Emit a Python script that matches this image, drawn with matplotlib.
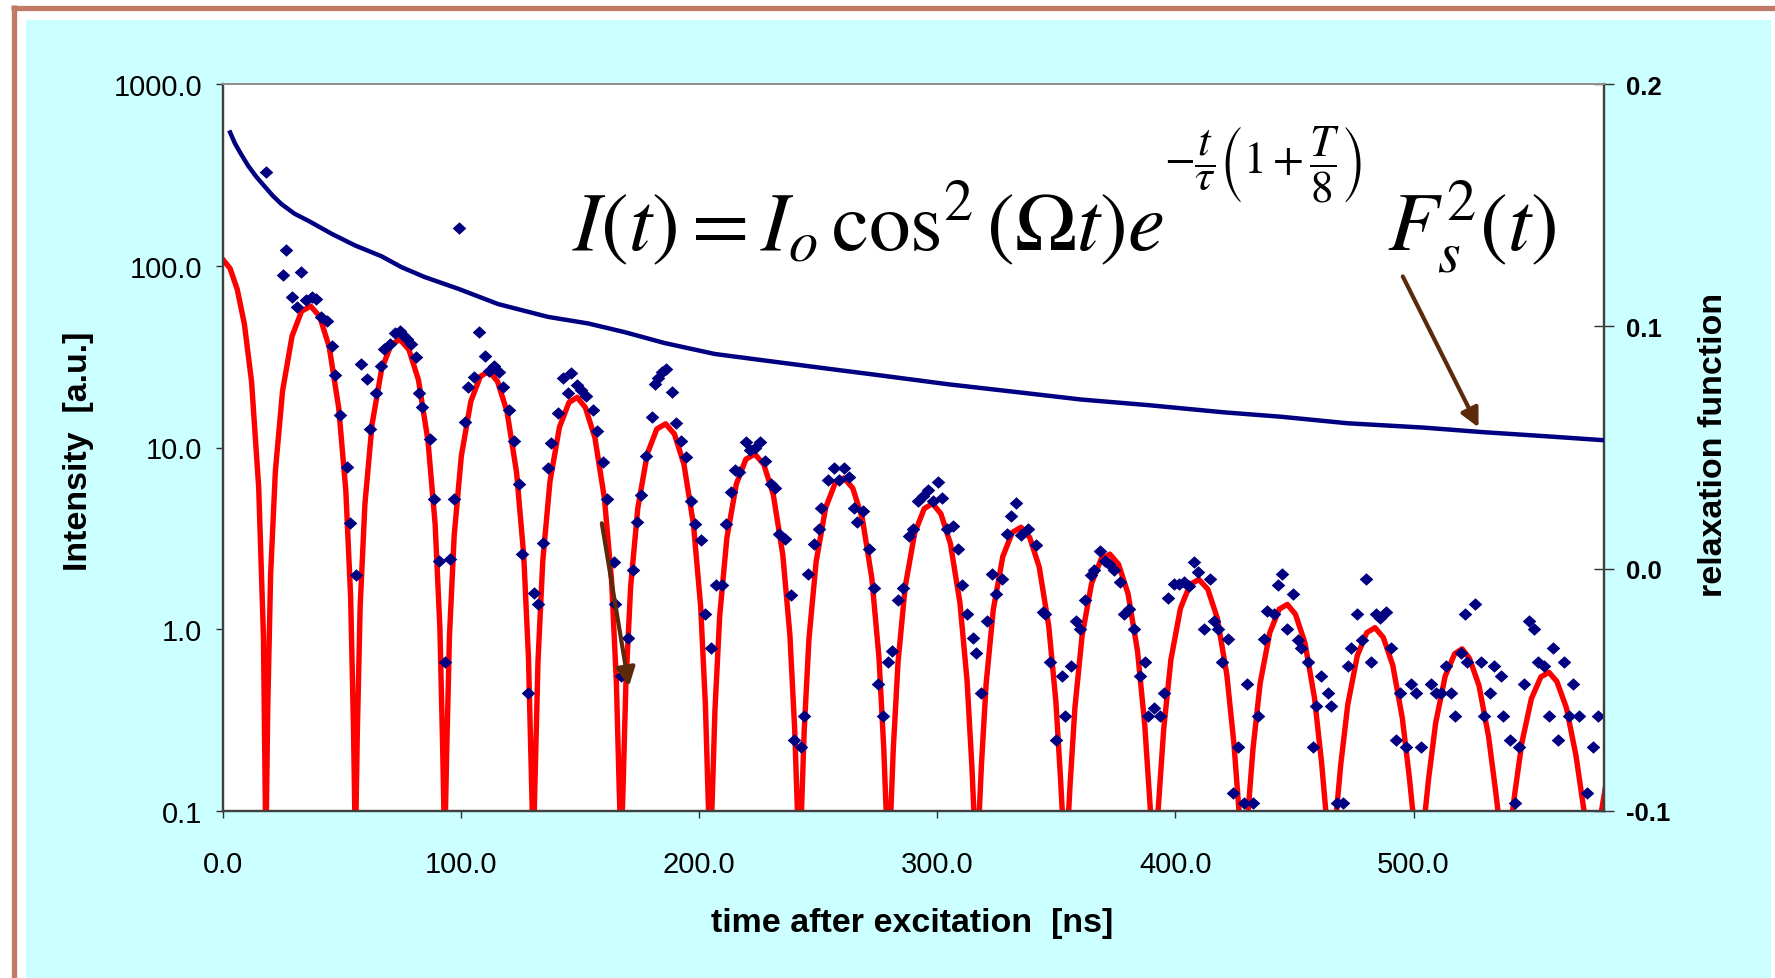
import matplotlib
matplotlib.use("Agg")
import matplotlib.pyplot as plt
from matplotlib.patches import Rectangle
from matplotlib.lines import Line2D
from matplotlib.ticker import NullLocator

# ---------------- data ----------------
# measured intensity (diamonds)
meas_t = [17.9, 26.4, 25.0, 32.6, 28.8, 31.0, 34.7, 37.5, 38.9, 41.0, 43.8, 45.6, 47.0, 49.2, 51.9, 53.2, 55.7,
          57.9, 60.3, 61.7, 64.2, 66.3, 67.7, 70.1, 72.2, 74.3, 75.7, 77.1, 78.9, 80.9, 82.3, 83.6, 86.9, 88.5,
          90.6, 93.2, 95.5, 97.1, 99.2, 101.6, 103.0, 105.3, 107.6, 110.0, 111.6, 113.7, 115.8, 117.6, 120.0,
          122.1, 124.4, 125.6, 128.1, 130.5, 132.3, 134.3, 136.5, 137.9, 140.5, 142.8, 146.3, 144.9, 148.7,
          150.5, 152.6, 155.4, 157.2, 159.6, 161.3, 164.1, 164.8, 167.0, 170.1, 172.2, 174.0, 175.7, 177.8,
          180.2, 181.3, 182.7, 184.4, 186.2, 188.6, 190.1, 192.2, 194.6, 196.4, 198.4, 200.9, 202.3, 204.8,
          206.9, 209.5, 211.1, 213.2, 214.9, 216.7, 219.5, 221.2, 223.3, 225.4, 227.7, 230.0, 231.7, 233.7,
          236.1, 238.4, 240.0, 242.6, 244.2, 245.9, 248.2, 250.5, 251.2, 254.1, 256.6, 258.7, 260.8, 262.9,
          265.0, 266.4, 268.8, 271.2, 273.4, 275.1, 277.2, 279.3, 281.0, 283.5, 285.6, 288.1, 289.8, 291.9,
          294.0, 296.1, 298.2, 300.3, 301.9, 304.2, 306.6, 308.7, 310.3, 312.6, 315.0, 316.4, 318.5, 320.8,
          323.1, 324.7, 327.3, 329.4, 331.0, 333.1, 335.2, 338.0, 341.5, 344.3, 345.3, 347.5, 349.9, 352.4,
          353.8, 356.2, 358.3, 360.1, 362.2, 364.6, 366.0, 368.5, 370.5, 372.3, 374.4, 376.9, 378.6, 380.7,
          382.8, 385.1, 387.4, 388.4, 391.2, 393.5, 395.1, 397.0, 399.3, 401.7, 403.8, 405.9, 408.0, 409.3,
          411.9, 414.7, 416.1, 418.0, 419.4, 422.2, 430.0, 426.4, 424.0, 428.6, 432.7, 434.5, 437.0, 438.4,
          441.2, 442.9, 444.7, 449.5, 446.8, 451.3, 452.9, 455.5, 461.3, 459.0, 463.9, 465.3, 457.6, 467.8,
          470.2, 472.3, 473.7, 476.2, 478.3, 480.0, 482.1, 484.2, 486.0, 488.3, 490.7, 494.2, 492.8, 496.7,
          499.1, 500.9, 503.0, 507.2, 509.3, 511.4, 513.5, 515.9, 517.3, 519.8, 521.6, 525.8, 522.6, 528.2,
          529.6, 532.1, 533.8, 536.6, 537.7, 540.5, 544.3, 542.5, 546.4, 548.5, 550.6, 552.2, 554.8, 558.7,
          563.2, 556.9, 560.8, 565.3, 567.1, 569.5, 573.0, 575.5, 577.6]
meas_I = [330, 122, 89.5, 92, 67, 59, 65, 67, 66, 52, 49.5, 36, 24.9, 15, 7.85, 3.86, 1.99,
          28.8, 23.8, 12.6, 20, 28.2, 35, 37, 42.7, 43.6, 41.5, 39.7, 37, 31.3, 20, 16.7, 11.2, 5.2,
          2.38, 0.66, 2.43, 5.2, 161, 13.8, 21.5, 24.5, 43, 31.8, 26.3, 28.2, 25.9, 21.5, 16,
          10.8, 6.3, 2.6, 0.445, 1.58, 1.37, 2.97, 7.7, 10.6, 15.4, 24.2, 25.6, 20, 22,
          20.6, 19.2, 16, 12.4, 8.3, 5.2, 2.34, 1.37, 0.555, 0.895, 2.12, 3.88, 5.5, 9.0,
          14.8, 22.3, 24.2, 25.9, 27, 20.3, 13.6, 10.9, 8.9, 5.1, 3.78, 3.08, 1.22, 0.79,
          1.76, 1.76, 3.78, 5.7, 7.5, 7.3, 10.7, 9.7, 9.95, 10.7, 8.4, 6.3, 5.96, 3.35,
          3.13, 1.55, 0.246, 0.224, 0.333, 2.01, 2.95, 3.54, 4.66, 6.65, 7.76, 6.65, 7.76, 6.84,
          4.66, 3.88, 4.46, 2.76, 1.68, 0.50, 0.333, 0.66, 0.76, 1.44, 1.68, 3.26, 3.54, 5.06,
          5.43, 5.8, 5.06, 6.47, 5.26, 3.57, 3.70, 2.76, 1.76, 1.22, 0.895, 0.74, 0.445, 1.11,
          2.01, 1.57, 1.90, 3.35, 4.22, 4.98, 3.31, 3.54, 2.92, 1.24, 1.21, 0.66, 0.246, 0.555,
          0.333, 0.627, 1.11, 1.0, 1.44, 1.99, 2.12, 2.69, 2.38, 2.28, 2.12, 1.83, 1.21, 1.30,
          1.0, 0.555, 0.66, 0.333, 0.37, 0.333, 0.445, 1.49, 1.78, 1.78, 1.83, 1.73, 2.34, 2.07,
          1.0, 1.88, 1.11, 1.0, 0.66, 0.885, 0.50, 0.224, 0.125, 0.111, 0.111, 0.333, 0.885, 1.26,
          1.22, 1.76, 2.01, 1.57, 1.0, 0.87, 0.79, 0.66, 0.555, 0.378, 0.445, 0.378, 0.224, 0.111,
          0.111, 0.627, 0.79, 1.22, 0.87, 1.90, 0.66, 1.22, 1.15, 1.24, 0.79, 0.445, 0.246, 0.224,
          0.50, 0.445, 0.224, 0.50, 0.445, 0.445, 0.627, 0.445, 0.333, 0.74, 1.22, 1.37, 0.66, 0.66,
          0.333, 0.445, 0.627, 0.555, 0.333, 0.246, 0.224, 0.111, 0.50, 1.11, 1.0, 0.66, 0.627, 0.79,
          0.66, 0.333, 0.246, 0.333, 0.50, 0.333, 0.125, 0.224, 0.333]

# fitted curve (red)
fit_t = [0, 3, 6, 9, 12, 15, 17, 18.0,
         18.8, 20.0, 22.0, 25.0, 29.0, 33.0, 36.8, 40.6, 44.6, 48.6, 51.6, 53.6, 54.8, 55.6,
         56.4, 57.6, 59.6, 62.6, 66.6, 70.6, 74.35, 78.1, 82.1, 86.1, 89.1, 91.1, 92.3, 93.1,
         93.9, 95.1, 97.1, 100.1, 104.1, 108.1, 111.7, 115.3, 119.3, 123.3, 126.3, 128.3, 129.5, 130.3,
         131.1, 132.3, 134.3, 137.3, 141.3, 145.3, 148.75, 152.2, 156.2, 160.2, 163.2, 165.2, 166.4, 167.2,
         168.0, 169.2, 171.2, 174.2, 178.2, 182.2, 185.9, 189.6, 193.6, 197.6, 200.6, 202.6, 203.8, 204.6,
         205.4, 206.6, 208.6, 211.6, 215.6, 219.6, 223.35, 227.1, 231.1, 235.1, 238.1, 240.1, 241.3, 242.1,
         242.9, 244.1, 246.1, 249.1, 253.1, 257.1, 260.8, 264.5, 268.5, 272.5, 275.5, 277.5, 278.7, 279.5,
         280.3, 281.5, 283.5, 286.5, 290.5, 294.5, 298.0, 301.5, 305.5, 309.5, 312.5, 314.5, 315.7, 316.5,
         317.3, 318.5, 320.5, 323.5, 327.5, 331.5, 335.15, 338.8, 342.8, 346.8, 349.8, 351.8, 353.0, 353.8,
         354.6, 355.8, 357.8, 360.8, 364.8, 368.8, 372.45, 376.1, 380.1, 384.1, 387.1, 389.1, 390.3, 391.1,
         391.9, 393.1, 395.1, 398.1, 402.1, 406.1, 409.85, 413.6, 417.6, 421.6, 424.6, 426.6, 427.8, 428.6,
         429.4, 430.6, 432.6, 435.6, 439.6, 443.6, 447.0, 450.4, 454.4, 458.4, 461.4, 463.4, 464.6, 465.4,
         466.2, 467.4, 469.4, 472.4, 476.4, 480.4, 483.85, 487.3, 491.3, 495.3, 498.3, 500.3, 501.5, 502.3,
         503.1, 504.3, 506.3, 509.3, 513.3, 517.3, 520.4, 523.5, 527.5, 531.5, 534.5, 536.5, 537.7, 538.5,
         539.3, 540.5, 542.5, 545.5, 549.5, 553.5, 556.85, 560.2, 564.2, 568.2, 571.2, 573.2, 574.4, 575.2,
         576.0, 577.2, 579.2, 582.2]
fit_I = [108, 96.5, 74, 47.6, 23, 6.0, 0.9, 0.06,
         0.375, 2.00, 7.43, 20.4, 41.0, 56.2, 60, 52.6, 35.8, 16.5, 5.75, 1.51, 0.29, 0.06,
         0.266, 1.33, 4.88, 13.4, 26.9, 36.8, 39.3, 34.5, 23.5, 10.85, 3.78, 1.01, 0.21, 0.06,
         0.198, 0.91, 3.29, 8.98, 17.98, 24.6, 26.3, 23.07, 15.73, 7.28, 2.55, 0.695, 0.161, 0.06,
         0.159, 0.670, 2.38, 6.47, 12.93, 17.69, 18.9, 16.58, 11.31, 5.24, 1.85, 0.516, 0.133, 0.06,
         0.131, 0.496, 1.71, 4.63, 9.24, 12.64, 13.5, 11.85, 8.08, 3.76, 1.34, 0.385, 0.112, 0.06,
         0.108, 0.356, 1.18, 3.17, 6.30, 8.62, 9.2, 8.08, 5.52, 2.57, 0.927, 0.281, 0.095, 0.06,
         0.095, 0.278, 0.888, 2.35, 4.66, 6.37, 6.8, 5.97, 4.08, 1.91, 0.700, 0.223, 0.086, 0.06,
         0.0855, 0.2175, 0.657, 1.71, 3.38, 4.61, 4.92, 4.32, 2.96, 1.40, 0.521, 0.178, 0.079, 0.06,
         0.079, 0.176, 0.500, 1.28, 2.51, 3.41, 3.64, 3.20, 2.20, 1.04, 0.400, 0.147, 0.074, 0.06,
         0.073, 0.142, 0.371, 0.920, 1.79, 2.43, 2.59, 2.28, 1.57, 0.756, 0.300, 0.121, 0.070, 0.06,
         0.070, 0.119, 0.284, 0.679, 1.30, 1.76, 1.88, 1.66, 1.15, 0.561, 0.233, 0.104, 0.067, 0.06,
         0.067, 0.102, 0.221, 0.505, 0.955, 1.29, 1.37, 1.21, 0.842, 0.420, 0.184, 0.092, 0.065, 0.06,
         0.065, 0.091, 0.178, 0.386, 0.716, 0.959, 1.02, 0.902, 0.633, 0.324, 0.151, 0.083, 0.064, 0.06,
         0.064, 0.083, 0.149, 0.305, 0.552, 0.734, 0.78, 0.691, 0.490, 0.258, 0.128, 0.077, 0.063, 0.06,
         0.063, 0.077, 0.124, 0.237, 0.415, 0.547, 0.58, 0.516, 0.370, 0.203, 0.109, 0.073, 0.062, 0.06,
         0.062, 0.073, 0.105, 0.18]

# relaxation function (right axis)
relax_t = [3, 5, 7.5, 10.6, 14, 17.6, 21, 24.6, 30, 36.5, 45.6, 55.4, 66.6, 75.0, 84.8, 98.8, 115.5,
           136.5, 153.3, 168.7, 185.5, 206.5, 227.5, 252.6, 276.5, 304.5, 336.6, 360.4, 388.4, 420.5,
           444.3, 472.3, 504.4, 528.2, 556.2, 580]
relax_v = [0.180, 0.1755, 0.1712, 0.1662, 0.1617, 0.1576, 0.1538, 0.1504, 0.1465, 0.1432, 0.1382, 0.1334,
           0.1289, 0.1244, 0.1203, 0.1155, 0.1092, 0.1039, 0.1012, 0.0976, 0.0931, 0.0886, 0.0859, 0.0827,
           0.0797, 0.0761, 0.0725, 0.0698, 0.0675, 0.0645, 0.0627, 0.0600, 0.0582, 0.0564, 0.0546, 0.0530]

x_ticks = [0, 100, 200, 300, 400, 500]
x_labels = ["0.0", "100.0", "200.0", "300.0", "400.0", "500.0"]
y_ticks = [0.1, 1, 10, 100, 1000]
y_labels = ["0.1", "1.0", "10.0", "100.0", "1000.0"]
y2_ticks = [-0.1, 0.0, 0.1, 0.2]
y2_labels = ["-0.1", "0.0", "0.1", "0.2"]

# ---------------- figure ----------------
W, H = 1775, 979
plt.rcParams['font.family'] = ['Liberation Sans', 'DejaVu Sans']
plt.rcParams['mathtext.fontset'] = 'stix'

fig = plt.figure(figsize=(W / 100, H / 100), dpi=100)
fig.patch.set_facecolor('white')

def fx(px):
    return px / W

def fy(py):
    return 1 - py / H

# background panel and border
fig.add_artist(Rectangle((fx(26), 0), fx(1771) - fx(26), fy(21), transform=fig.transFigure,
                         facecolor='#CCFFFF', edgecolor='none', zorder=0))
brown = '#C17A66'
fig.add_artist(Line2D([fx(11), 1], [fy(8.5), fy(8.5)], transform=fig.transFigure, color=brown, lw=3.8,
                      solid_capstyle='butt', zorder=1))
fig.add_artist(Line2D([fx(13.5), fx(13.5)], [fy(6), 0], transform=fig.transFigure, color=brown, lw=3.8,
                      solid_capstyle='butt', zorder=1))

L, R, T, B = 223, 1604, 85, 812
ax = fig.add_axes([fx(L), fy(B), fx(R) - fx(L), fy(T) - fy(B)])
ax.set_facecolor('white')
ax.set_yscale('log')
ax.set_xlim(0, 580)
ax.set_ylim(0.1, 1000)

ax.plot(fit_t, fit_I, color='#FF0000', lw=3.9, zorder=2, solid_joinstyle='round')
diamond = [(0, 0.46), (0.5, 0), (0, -0.46), (-0.5, 0), (0, 0.46)]
ax.plot(meas_t, meas_I, linestyle='none', marker=diamond, markersize=9.8, markeredgewidth=0,
        color='#000080', zorder=3)

ax.set_xticks(x_ticks)
ax.set_xticklabels(x_labels)
ax.set_yticks(y_ticks)
ax.set_yticklabels(y_labels)
ax.yaxis.set_minor_locator(NullLocator())
ax.tick_params(axis='both', which='major', labelsize=21, direction='out', length=5, width=1,
               color='#303030')
ax.tick_params(axis='x', pad=23)
ax.tick_params(axis='y', pad=10)

ax2 = ax.twinx()
ax2.set_ylim(-0.1, 0.2)
ax2.plot(relax_t, relax_v, color='#000080', lw=3.2, zorder=4, solid_joinstyle='round')
ax2.set_yticks(y2_ticks)
ax2.set_yticklabels(y2_labels, fontweight='bold')
ax2.tick_params(axis='y', labelsize=18.5, direction='inout', length=14, width=1, color='#303030', pad=9)

for a in (ax, ax2):
    for side in ('left', 'right', 'bottom'):
        a.spines[side].set_color('#404040')
        a.spines[side].set_linewidth(1.6)
    a.spines['top'].set_color('#909090')
    a.spines['top'].set_linewidth(1.4)

# arrows
arrow_col = '#5C2A0A'
ax.annotate('', xy=(527.3, 12.9), xytext=(495.5, 87.3),
            arrowprops=dict(arrowstyle='-|>', color=arrow_col, lw=3.0, mutation_scale=28,
                            shrinkA=0, shrinkB=0), zorder=6, annotation_clip=False)
ax.annotate('', xy=(170.5, 0.484), xytext=(159.1, 3.83),
            arrowprops=dict(arrowstyle='-|>', color=arrow_col, lw=3.0, mutation_scale=28,
                            shrinkA=0, shrinkB=0), zorder=6)

# labels
fig.text(fx(78), fy(451), 'Intensity  [a.u.]', rotation=90, ha='center', va='center',
         fontsize=24.5, fontweight='bold')
fig.text(fx(912), fy(924), 'time after excitation  [ns]', ha='center', va='center',
         fontsize=24.5, fontweight='bold')
fig.text(fx(1713), fy(445), 'relaxation function', rotation=90, ha='center', va='center',
         fontsize=24.5, fontweight='bold')

# formula, in three pieces
fig.text(fx(572), fy(251), r'$I\left(t\right)=I_o\,\cos^2\left(\Omega t\right)e$',
         ha='left', va='baseline', fontsize=60, zorder=7)
fig.text(fx(1164), fy(164), r'$-\dfrac{t}{\tau}\left(1+\dfrac{T}{8}\right)$',
         ha='left', va='center', fontsize=32.5, zorder=7)
fig.text(fx(1387), fy(251), r'$F_s^2\left(t\right)$',
         ha='left', va='baseline', fontsize=60, zorder=7)

fig.savefig('out.png', dpi=100, facecolor=fig.get_facecolor())
